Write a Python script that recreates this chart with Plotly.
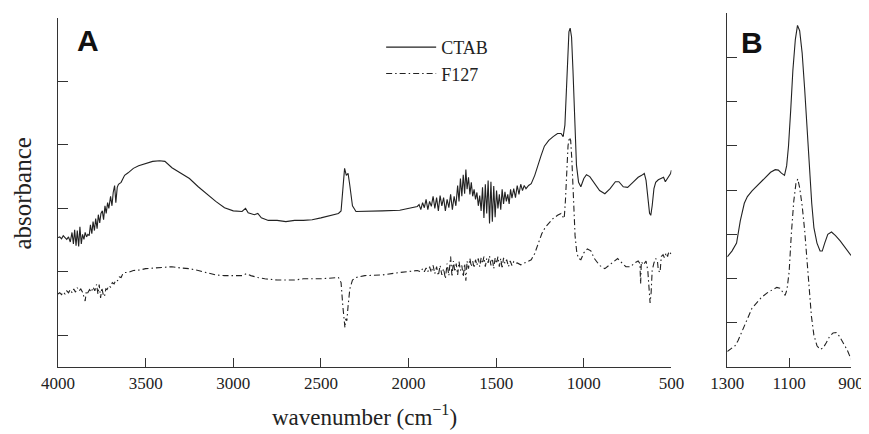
import plotly.graph_objects as go

# panel A: full range spectra, (wavenumber, absorbance a.u.)
ctab_a = [
    (4000, 2.04), (3990, 2.05), (3980, 2.02), (3970, 2.07), (3960, 2.04), (3950, 2.01),
    (3940, 2.05), (3930, 1.97), (3920, 2.12), (3912, 1.94), (3905, 2.16), (3897, 1.91),
    (3890, 2.15), (3882, 1.90), (3875, 2.21), (3867, 1.94), (3860, 2.09), (3852, 2.01),
    (3845, 2.12), (3837, 2.05), (3830, 2.09), (3822, 2.07), (3815, 2.24), (3807, 2.10),
    (3800, 2.29), (3792, 2.15), (3785, 2.34), (3777, 2.18), (3770, 2.40), (3762, 2.27),
    (3755, 2.42), (3747, 2.46), (3740, 2.32), (3732, 2.54), (3725, 2.42), (3717, 2.59),
    (3710, 2.50), (3700, 2.69), (3692, 2.54), (3685, 2.75), (3677, 2.86), (3670, 2.59),
    (3662, 2.83), (3655, 2.88), (3640, 2.91), (3620, 3.02), (3600, 3.06), (3570, 3.13),
    (3540, 3.17), (3500, 3.21), (3460, 3.24), (3420, 3.25), (3390, 3.24), (3350, 3.14),
    (3300, 3.06), (3250, 2.97), (3200, 2.84), (3150, 2.72), (3100, 2.61), (3050, 2.51),
    (3000, 2.46), (2950, 2.45), (2930, 2.50), (2915, 2.43), (2880, 2.40), (2860, 2.42),
    (2840, 2.35), (2800, 2.31), (2750, 2.31), (2700, 2.29), (2650, 2.31), (2600, 2.31),
    (2550, 2.32), (2500, 2.35), (2450, 2.39), (2400, 2.42), (2385, 2.46), (2372, 2.94),
    (2365, 3.13), (2355, 3.02), (2345, 3.05), (2335, 2.86), (2320, 2.54), (2300, 2.45),
    (2250, 2.45), (2150, 2.46), (2050, 2.47), (2000, 2.50), (1950, 2.53), (1940, 2.56),
    (1930, 2.48), (1920, 2.59), (1910, 2.51), (1900, 2.64), (1890, 2.48), (1880, 2.61),
    (1870, 2.53), (1860, 2.69), (1850, 2.50), (1840, 2.67), (1830, 2.46), (1820, 2.70),
    (1810, 2.54), (1800, 2.67), (1790, 2.46), (1780, 2.64), (1770, 2.51), (1760, 2.72),
    (1750, 2.48), (1740, 2.69), (1730, 2.54), (1720, 2.86), (1712, 2.61), (1704, 2.97),
    (1696, 2.69), (1688, 3.03), (1680, 2.73), (1673, 3.11), (1666, 2.80), (1658, 2.99),
    (1650, 2.72), (1642, 2.91), (1634, 2.69), (1626, 2.80), (1618, 2.64), (1610, 2.75),
    (1602, 2.54), (1594, 2.70), (1586, 2.46), (1578, 2.83), (1570, 2.35), (1562, 2.88),
    (1554, 2.42), (1546, 2.94), (1538, 2.26), (1530, 2.92), (1522, 2.29), (1514, 2.85),
    (1506, 2.36), (1498, 2.78), (1490, 2.50), (1482, 2.72), (1474, 2.48), (1466, 2.80),
    (1458, 2.57), (1450, 2.76), (1442, 2.61), (1434, 2.72), (1426, 2.57), (1418, 2.80),
    (1410, 2.66), (1400, 2.81), (1390, 2.67), (1380, 2.86), (1370, 2.72), (1360, 2.88),
    (1350, 2.78), (1340, 2.86), (1330, 2.81), (1315, 2.86), (1300, 2.89), (1280, 3.02),
    (1260, 3.21), (1244, 3.33), (1225, 3.48), (1200, 3.57), (1175, 3.63), (1150, 3.68),
    (1130, 3.68), (1118, 3.63), (1108, 3.81), (1100, 4.36), (1092, 4.99), (1085, 5.28),
    (1078, 5.34), (1070, 5.20), (1062, 4.68), (1052, 3.89), (1042, 3.18), (1030, 2.91),
    (1017, 2.84), (1000, 2.97), (985, 3.03), (966, 3.00), (940, 2.89), (910, 2.78),
    (880, 2.73), (850, 2.81), (820, 2.92), (800, 2.92), (775, 2.84), (750, 2.83),
    (720, 2.91), (690, 2.99), (670, 3.02), (655, 3.05), (645, 2.94), (635, 2.65),
    (625, 2.42), (618, 2.39), (610, 2.54), (600, 2.81), (590, 2.91), (575, 2.95),
    (560, 2.97), (545, 2.99), (535, 2.92), (525, 2.97), (515, 3.00), (505, 3.05),
    (500, 3.10),
]

f127_a = [
    (4000, 1.15), (3990, 1.17), (3980, 1.14), (3970, 1.18), (3960, 1.15), (3950, 1.20),
    (3940, 1.17), (3930, 1.22), (3920, 1.17), (3910, 1.23), (3900, 1.18), (3890, 1.25),
    (3880, 1.20), (3870, 1.23), (3860, 1.18), (3852, 1.09), (3845, 1.04), (3838, 1.20),
    (3830, 1.17), (3820, 1.22), (3810, 1.18), (3800, 1.26), (3790, 1.20), (3780, 1.30),
    (3772, 1.15), (3765, 1.30), (3757, 1.09), (3750, 1.25), (3742, 1.14), (3735, 1.11),
    (3727, 1.23), (3720, 1.22), (3710, 1.28), (3700, 1.26), (3690, 1.33), (3680, 1.31),
    (3670, 1.37), (3660, 1.36), (3650, 1.42), (3640, 1.41), (3630, 1.47), (3620, 1.49),
    (3600, 1.49), (3570, 1.52), (3530, 1.53), (3500, 1.55), (3450, 1.56), (3400, 1.58),
    (3350, 1.58), (3300, 1.56), (3250, 1.55), (3200, 1.52), (3150, 1.49), (3100, 1.45),
    (3050, 1.44), (3000, 1.44), (2950, 1.44), (2925, 1.47), (2900, 1.44), (2860, 1.41),
    (2820, 1.39), (2750, 1.37), (2700, 1.37), (2650, 1.37), (2600, 1.39), (2500, 1.39),
    (2400, 1.41), (2385, 1.33), (2375, 0.96), (2368, 0.70), (2363, 0.62), (2358, 0.76),
    (2352, 0.73), (2345, 0.96), (2335, 1.23), (2320, 1.37), (2300, 1.41), (2250, 1.44),
    (2150, 1.45), (2050, 1.49), (2000, 1.50), (1950, 1.52), (1930, 1.50), (1920, 1.55),
    (1910, 1.50), (1900, 1.56), (1890, 1.50), (1880, 1.58), (1870, 1.49), (1860, 1.60),
    (1850, 1.47), (1840, 1.58), (1830, 1.44), (1820, 1.60), (1810, 1.45), (1800, 1.55),
    (1790, 1.39), (1780, 1.63), (1770, 1.44), (1760, 1.74), (1752, 1.42), (1744, 1.67),
    (1736, 1.50), (1728, 1.63), (1720, 1.45), (1712, 1.66), (1704, 1.52), (1696, 1.60),
    (1688, 1.42), (1680, 1.63), (1673, 1.36), (1666, 1.67), (1658, 1.55), (1650, 1.71),
    (1642, 1.58), (1634, 1.67), (1626, 1.56), (1618, 1.69), (1610, 1.60), (1602, 1.71),
    (1594, 1.58), (1586, 1.72), (1578, 1.63), (1570, 1.74), (1562, 1.58), (1554, 1.71),
    (1546, 1.64), (1538, 1.75), (1530, 1.60), (1522, 1.71), (1514, 1.55), (1506, 1.72),
    (1498, 1.63), (1490, 1.74), (1482, 1.58), (1474, 1.71), (1466, 1.55), (1458, 1.72),
    (1450, 1.63), (1440, 1.69), (1430, 1.58), (1420, 1.67), (1410, 1.60), (1400, 1.66),
    (1390, 1.63), (1380, 1.64), (1360, 1.61), (1340, 1.64), (1320, 1.66), (1300, 1.69),
    (1280, 1.79), (1260, 1.94), (1240, 2.10), (1220, 2.20), (1200, 2.27), (1175, 2.34),
    (1150, 2.39), (1130, 2.42), (1120, 2.37), (1112, 2.34), (1105, 2.62), (1097, 3.18),
    (1090, 3.49), (1082, 3.62), (1075, 3.57), (1068, 3.25), (1060, 2.62), (1050, 2.07),
    (1040, 1.80), (1030, 1.71), (1017, 1.69), (1000, 1.80), (980, 1.86), (960, 1.83),
    (940, 1.71), (910, 1.60), (880, 1.55), (850, 1.61), (820, 1.67), (807, 1.71),
    (790, 1.66), (760, 1.58), (733, 1.58), (710, 1.64), (690, 1.67), (680, 1.63),
    (676, 1.31), (672, 1.66), (660, 1.61), (645, 1.67), (635, 1.52), (628, 1.20),
    (622, 1.01), (616, 1.17), (610, 1.52), (600, 1.64), (590, 1.71), (580, 1.67),
    (575, 1.52), (565, 1.49), (558, 1.74), (548, 1.77), (540, 1.72), (530, 1.80),
    (522, 1.74), (515, 1.82), (505, 1.79), (500, 1.80),
]

# panel B: Si-O-Si region, own scaling
ctab_b = [
    (1300, 2.49), (1285, 2.62), (1270, 2.80), (1258, 3.30), (1245, 3.70), (1235, 3.85),
    (1220, 3.98), (1200, 4.12), (1180, 4.28), (1160, 4.40), (1145, 4.46), (1135, 4.45),
    (1125, 4.38), (1115, 4.33), (1108, 4.55), (1102, 5.00), (1095, 5.80), (1088, 6.70),
    (1080, 7.40), (1073, 7.72), (1066, 7.60), (1058, 7.10), (1050, 6.30), (1042, 5.40),
    (1035, 4.50), (1027, 3.70), (1020, 3.15), (1010, 2.80), (1000, 2.62), (993, 2.62),
    (985, 2.80), (975, 3.00), (963, 3.05), (950, 2.97), (935, 2.85), (920, 2.72),
    (910, 2.62), (900, 2.52),
]

f127_b = [
    (1300, 0.35), (1285, 0.42), (1275, 0.48), (1265, 0.60), (1250, 0.84), (1235, 1.10),
    (1220, 1.33), (1205, 1.45), (1190, 1.57), (1170, 1.68), (1155, 1.75), (1140, 1.80),
    (1130, 1.78), (1120, 1.68), (1113, 1.62), (1107, 1.75), (1100, 2.15), (1093, 3.00),
    (1085, 3.75), (1078, 4.15), (1072, 4.25), (1066, 4.05), (1058, 3.65), (1050, 3.10),
    (1043, 2.50), (1036, 1.80), (1028, 1.15), (1020, 0.72), (1010, 0.48), (1000, 0.40),
    (990, 0.43), (980, 0.55), (970, 0.68), (958, 0.77), (948, 0.78), (938, 0.70),
    (925, 0.55), (912, 0.38), (900, 0.18),
]

xticks_a = [4000, 3500, 3000, 2500, 2000, 1500, 1000, 500]
xticks_b = [1300, 1100, 900]

ink = "#222222"
serif = "Liberation Serif"
solid = dict(color=ink, width=1.1)
dashdot = dict(color=ink, width=1.1, dash="6px,3px,1.5px,3px")

fig = go.Figure()

wn, ab = zip(*ctab_a)
fig.add_trace(go.Scatter(x=wn, y=ab, mode="lines", line=solid, name="CTAB",
                         xaxis="x", yaxis="y"))
wn, ab = zip(*f127_a)
fig.add_trace(go.Scatter(x=wn, y=ab, mode="lines", line=dashdot, name="F127",
                         xaxis="x", yaxis="y"))
wn, ab = zip(*ctab_b)
fig.add_trace(go.Scatter(x=wn, y=ab, mode="lines", line=solid, showlegend=False,
                         xaxis="x2", yaxis="y2"))
wn, ab = zip(*f127_b)
fig.add_trace(go.Scatter(x=wn, y=ab, mode="lines", line=dashdot, showlegend=False,
                         xaxis="x2", yaxis="y2"))

axis_style = dict(
    showline=True, linecolor="#333", linewidth=1.3, mirror=False,
    showgrid=False, zeroline=False,
    ticks="inside", tickcolor="#333", tickwidth=1.2,
)
tick_font = dict(family=serif, size=17, color=ink)

# the page body adds an 8px offset, so the figure is 8px smaller than the window
fig.update_layout(
    width=861,
    height=426,
    margin=dict(l=50, r=16, t=5, b=67),
    plot_bgcolor="white",
    paper_bgcolor="white",
    font=dict(family=serif, color=ink),
    xaxis=dict(axis_style, domain=[0, 0.7736], range=[4000, 500], tickvals=xticks_a,
               ticklen=9, tickfont=tick_font, anchor="y"),
    yaxis=dict(axis_style, domain=[0, 0.986], range=[0, 5.5],
               tickvals=[0.5, 1.5, 2.5, 3.5, 4.5, 5.5], ticklen=10,
               showticklabels=False, anchor="x"),
    xaxis2=dict(axis_style, domain=[0.844, 1], range=[1300, 900], tickvals=xticks_b,
                ticklen=9, tickfont=tick_font, anchor="y2"),
    yaxis2=dict(axis_style, domain=[0, 1], range=[0, 8], tickvals=list(range(9)),
                ticklen=10, showticklabels=False, anchor="x2"),
    legend=dict(x=0.4075, y=0.955, xanchor="left", yanchor="top", itemwidth=50,
                font=dict(family=serif, size=18, color=ink),
                bgcolor="rgba(0,0,0,0)", tracegroupgap=0),
    annotations=[
        dict(text="<b>A</b>", x=0.0377, y=0.921, xref="paper", yref="paper",
             showarrow=False, font=dict(family="Liberation Sans", size=30, color="#111"),
             xanchor="center", yanchor="middle"),
        dict(text="<b>B</b>", x=0.8755, y=0.918, xref="paper", yref="paper",
             showarrow=False, font=dict(family="Liberation Sans", size=30, color="#111"),
             xanchor="center", yanchor="middle"),
        dict(text="absorbance", textangle=-90, x=-0.0453, y=0.49, xref="paper",
             yref="paper", showarrow=False, font=dict(family=serif, size=25, color=ink),
             xanchor="center", yanchor="middle"),
        dict(text="wavenumber (cm<sup>−1</sup>)", x=0.386, y=-0.1356, xref="paper",
             yref="paper", showarrow=False, font=dict(family=serif, size=23, color=ink),
             xanchor="center", yanchor="middle"),
    ],
)

fig.write_html("out.html")
